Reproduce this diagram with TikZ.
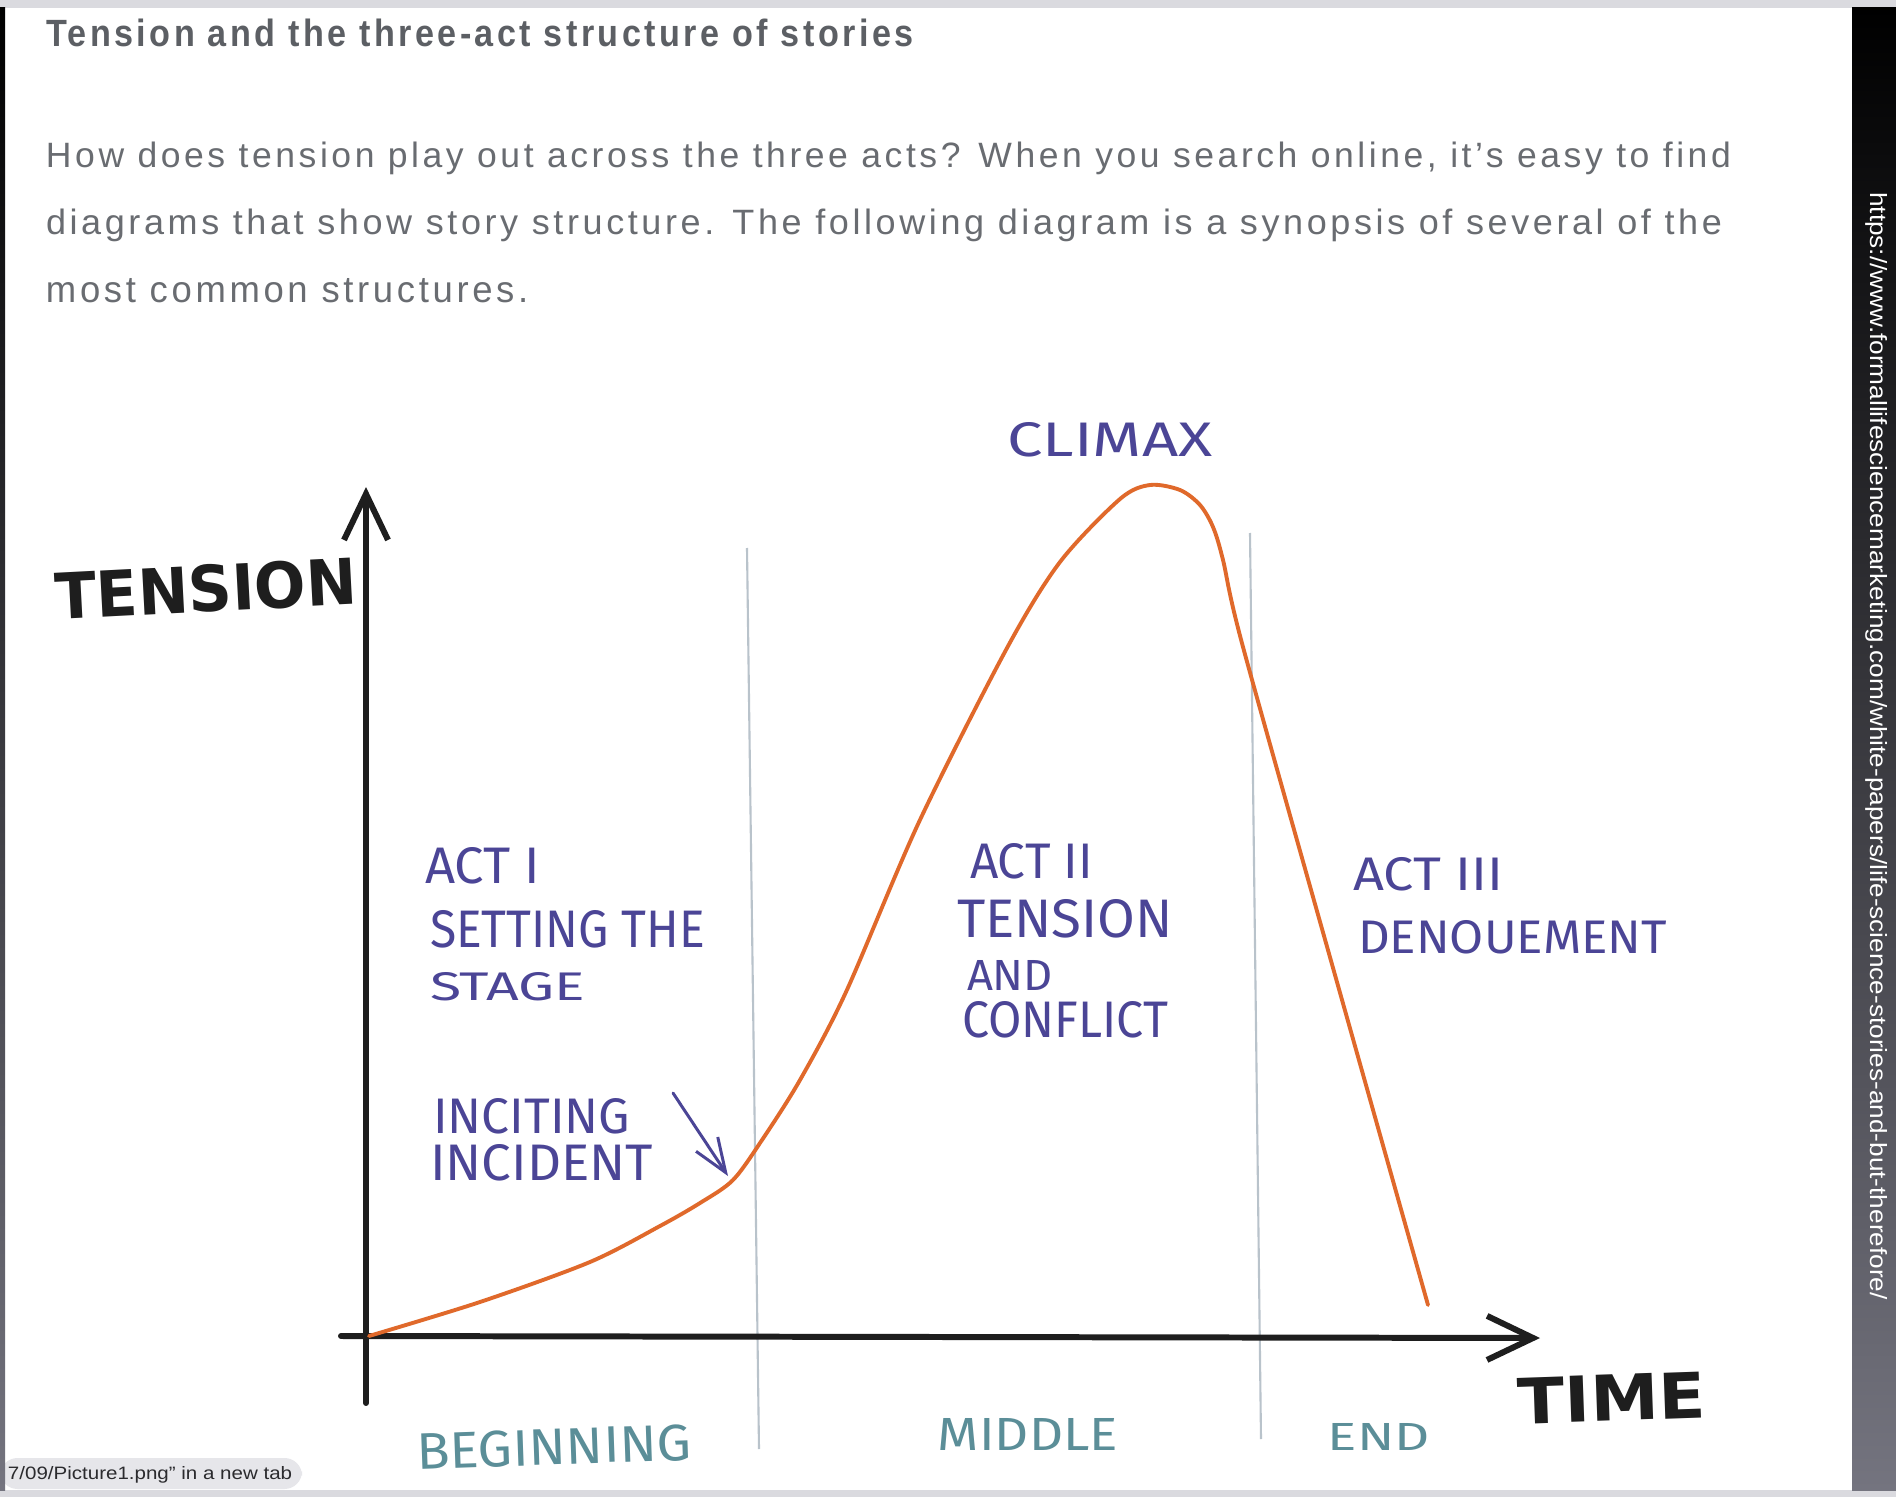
\documentclass[tikz,border=0pt]{standalone}
\usepackage{fontspec}
\usepackage{graphicx}
\usetikzlibrary{positioning, arrows.meta, calc}
\newfontfamily\bodyfont[LetterSpace=10]{Liberation Sans}
\newfontfamily\handfont{Fira Sans}
\newfontfamily\markerfont{DejaVu Sans}
\newfontfamily\urlfont{Liberation Sans}
\definecolor{Page_Band}{HTML}{DADADF}
\definecolor{Page_Tab}{HTML}{E6E6EA}
\definecolor{Bar_Mid}{HTML}{23264A}
\definecolor{Bar_Low}{HTML}{74747F}
\definecolor{Txt_Title}{HTML}{5C5F64}
\definecolor{Txt_Body}{HTML}{696C71}
\definecolor{Txt_Tab}{HTML}{2B2B2E}
\definecolor{Hand_Purple}{HTML}{4B4596}
\definecolor{Hand_Teal}{HTML}{5B8E98}
\definecolor{Curve_Orange}{HTML}{E0692B}
\definecolor{Div_Grey}{HTML}{B9C3CB}
\definecolor{Axis_Black}{HTML}{1E1E1E}
\newcommand{\fitto}[3]{\resizebox{#1}{#2}{#3}}

\begin{document}
\begin{tikzpicture}[
  x=0.01cm, y=-0.01cm,
  every node/.style={inner sep=0pt, outer sep=0pt},
  heading/.style={anchor=base west, text=Txt_Title, font=\bodyfont\bfseries},
  para/.style={anchor=base west, text=Txt_Body, font=\bodyfont},
  hand/.style={anchor=base west, text=Hand_Purple, font=\handfont},
  phase/.style={text=Hand_Teal, font=\handfont},
  marker/.style={text=Axis_Black, font=\markerfont\bfseries},
  axis/.style={Axis_Black, line width=1.7pt, line cap=round,
    -{Straight Barb[length=4.6mm, width=4.4mm]}},
  divider/.style={Div_Grey, line width=0.6pt},
  arc/.style={Curve_Orange, line width=1.1pt, line cap=round, line join=round},
  pointer/.style={Hand_Purple, line width=0.85pt, line cap=round,
    -{Straight Barb[length=3.4mm, width=2.6mm]}}
]
  \useasboundingbox (0,0) rectangle (1896,1497);
  \fill[white] (0,0) rectangle (1896,1497);

  % Page frame
  \fill[Page_Band] (0,0) rectangle (1896,8);
  \fill[Page_Band] (0,1490) rectangle (1896,1497);

  % Heading and intro text
  \node[heading] (title) at (46,47)
    {\fitto{8.67cm}{0.275cm}{Tension and the three-act structure of stories}};
  \node[para] (line1) at (46,168)
    {\fitto{16.84cm}{0.255cm}{How does tension play out across the three acts? When you search online, it’s easy to find}};
  \node[para] (line2) at (46,235)
    {\fitto{16.75cm}{0.255cm}{diagrams that show story structure. The following diagram is a synopsis of several of the}};
  \node[para] (line3) at (46,303)
    {\fitto{4.82cm}{0.24cm}{most common structures.}};

  % Act dividers
  \coordinate (divA top) at (747,548);
  \coordinate (divA bot) at (759,1449);
  \coordinate (divB top) at (1250,533);
  \coordinate (divB bot) at (1261,1439);
  \draw[divider] (divA top) -- (divA bot);
  \draw[divider] (divB top) -- (divB bot);

  % Axes
  \coordinate (ybase) at (366,1403);
  \coordinate (ytop) at (366,487);
  \coordinate (xbase) at (341,1336);
  \coordinate (xend) at (1540,1338);
  \draw[axis] (ybase) -- (ytop);
  \draw[axis] (xbase) -- (xend);
  \node[marker, rotate=3] (tension) at (206,589) {\fitto{3.02cm}{0.47cm}{TENSION}};
  \node[marker, rotate=2] (time) at (1612,1398) {\fitto{1.88cm}{0.46cm}{TIME}};

  % Tension curve
  \draw[arc] plot[smooth, tension=0.5] coordinates {
    (369,1336) (480,1302) (590,1262) (660,1226) (700,1203) (733,1180)
    (762,1140) (800,1080) (846,992) (919,822) (1007,648) (1060,562)
    (1120,499) (1150,485) (1180,490) (1200,505) (1213,527) (1223,560)
    (1243,647) (1335,975) (1428,1305)};

  % Labels of the acts
  \node[hand, anchor=center] (climax) at (1110,440) {\fitto{2.05cm}{0.34cm}{CLIMAX}};

  \node[hand] (act1) at (425,883) {\fitto{1.15cm}{0.36cm}{ACT I}};
  \node[hand] (act1 sub) at (430,947) {\fitto{2.75cm}{0.37cm}{SETTING THE}};
  \node[hand] (act1 sub2) at (430,1000) {\fitto{1.55cm}{0.28cm}{STAGE}};

  \node[hand] (incite) at (433,1133) {\fitto{1.97cm}{0.35cm}{INCITING}};
  \node[hand] (incite2) at (430,1180) {\fitto{2.23cm}{0.36cm}{INCIDENT}};
  \coordinate (incite tail) at (673,1093);
  \coordinate (incite tip) at (728,1176);
  \draw[pointer] (incite tail) -- (incite tip);

  \node[hand] (act2) at (970,878) {\fitto{1.23cm}{0.35cm}{ACT II}};
  \node[hand] (act2 sub) at (957,937) {\fitto{2.16cm}{0.38cm}{TENSION}};
  \node[hand] (act2 sub2) at (967,990) {\fitto{0.86cm}{0.30cm}{AND}};
  \node[hand] (act2 sub3) at (962,1037) {\fitto{2.06cm}{0.36cm}{CONFLICT}};

  \node[hand] (act3) at (1353,890) {\fitto{1.50cm}{0.33cm}{ACT III}};
  \node[hand] (act3 sub) at (1358,953) {\fitto{3.09cm}{0.33cm}{DENOUEMENT}};

  % Phases under the time axis
  \node[phase, rotate=2] (beginning) at (554,1447) {\fitto{2.75cm}{0.36cm}{BEGINNING}};
  \node[phase] (middle) at (1028,1434) {\fitto{1.80cm}{0.32cm}{MIDDLE}};
  \node[phase] (end) at (1379,1437) {\fitto{1.02cm}{0.27cm}{END}};

  % Browser tab hint
  \fill[Page_Tab, rounded corners=5pt] (0,1458) rectangle (302,1489);
  \node[anchor=base west, text=Txt_Tab, font=\urlfont] (tabhint) at (8,1479)
    {\fitto{2.84cm}{0.13cm}{7/09/Picture1.png” in a new tab}};

  % Side bars
  \shade[top color=black, middle color=Bar_Mid, bottom color=Bar_Low]
    (0,8) rectangle (5,1490);
  \shade[top color=black, middle color=Bar_Mid, bottom color=Bar_Low]
    (1852,8) rectangle (1896,1490);
  \node[text=white, font=\urlfont, rotate=-90] (link) at (1877,746)
    {\fitto{11.07cm}{0.17cm}{https://www.formallifesciencemarketing.com/white-papers/life-science-stories-and-but-therefore/}};
\end{tikzpicture}
\end{document}
